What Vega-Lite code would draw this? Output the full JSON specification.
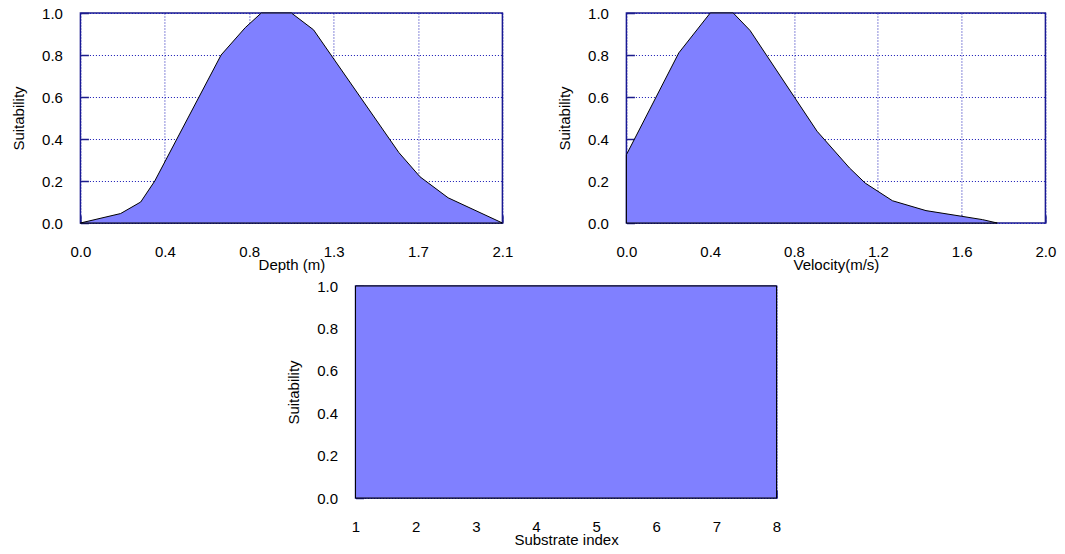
{
  "$schema": "https://vega.github.io/schema/vega-lite/v6.json",
  "background": "white",
  "padding": {"left": 10, "top": 5, "right": 5, "bottom": 5},
  "spacing": 5,
  "center": true,
  "datasets": {
    "depth": [
      {"x": 0, "s": 0},
      {"x": 0.2, "s": 0.045},
      {"x": 0.3, "s": 0.1},
      {"x": 0.37, "s": 0.2},
      {"x": 0.7, "s": 0.8},
      {"x": 0.82, "s": 0.93},
      {"x": 0.9, "s": 1},
      {"x": 1.05, "s": 1},
      {"x": 1.16, "s": 0.92},
      {"x": 1.585, "s": 0.335},
      {"x": 1.69, "s": 0.22},
      {"x": 1.83, "s": 0.12},
      {"x": 2.1, "s": 0}
    ],
    "velocity": [
      {"x": 0, "s": 0.325},
      {"x": 0.25, "s": 0.81},
      {"x": 0.4, "s": 1},
      {"x": 0.51, "s": 1},
      {"x": 0.59, "s": 0.917},
      {"x": 0.91, "s": 0.437},
      {"x": 1.065, "s": 0.262},
      {"x": 1.14, "s": 0.19},
      {"x": 1.27, "s": 0.106},
      {"x": 1.43, "s": 0.059},
      {"x": 1.6, "s": 0.032},
      {"x": 1.7, "s": 0.016},
      {"x": 1.77, "s": 0}
    ],
    "substrate": [
      {"x": 1, "s": 1},
      {"x": 8, "s": 1}
    ]
  },
  "vconcat": [
    {
      "hconcat": [
        {
          "width": 422,
          "height": 210,
          "data": {"name": "depth"},
          "mark": {"type": "area", "color": "#8080FF", "fillOpacity": 1, "stroke": "black", "strokeWidth": 1, "interpolate": "linear"},
          "encoding": {
            "x": {"field": "x", "type": "quantitative", "title": "Depth (m)", "scale": {"domain": [0, 2.1], "nice": false, "zero": false},
                  "axis": {"values": [0, 0.42, 0.84, 1.26, 1.68, 2.1], "format": ".1f"}},
            "y": {"field": "s", "type": "quantitative", "title": "Suitability", "scale": {"domain": [0, 1], "nice": false},
                  "axis": {"values": [0, 0.2, 0.4, 0.6, 0.8, 1.0], "format": ".1f"}}
          }
        },
        {
          "width": 419,
          "height": 210,
          "data": {"name": "velocity"},
          "mark": {"type": "area", "color": "#8080FF", "fillOpacity": 1, "stroke": "black", "strokeWidth": 1, "interpolate": "linear"},
          "encoding": {
            "x": {"field": "x", "type": "quantitative", "title": "Velocity(m/s)", "scale": {"domain": [0, 2.0], "nice": false, "zero": false},
                  "axis": {"values": [0, 0.4, 0.8, 1.2, 1.6, 2.0], "format": ".1f"}},
            "y": {"field": "s", "type": "quantitative", "title": "Suitability", "scale": {"domain": [0, 1], "nice": false},
                  "axis": {"values": [0, 0.2, 0.4, 0.6, 0.8, 1.0], "format": ".1f"}}
          }
        }
      ],
      "spacing": 42
    },
    {
      "width": 421,
      "height": 212,
      "data": {"name": "substrate"},
      "mark": {"type": "area", "color": "#8080FF", "fillOpacity": 1, "stroke": "black", "strokeWidth": 1, "interpolate": "linear"},
      "encoding": {
        "x": {"field": "x", "type": "quantitative", "title": "Substrate index", "scale": {"domain": [1, 8], "nice": false, "zero": false},
              "axis": {"values": [1, 2, 3, 4, 5, 6, 7, 8], "format": "d"}},
        "y": {"field": "s", "type": "quantitative", "title": "Suitability", "scale": {"domain": [0, 1], "nice": false},
              "axis": {"values": [0, 0.2, 0.4, 0.6, 0.8, 1.0], "format": ".1f"}}
      }
    }
  ],
  "config": {
    "font": "Liberation Sans",
    "view": {"stroke": "#1c1c8c", "strokeWidth": 1.5},
    "axis": {
      "labelFont": "Liberation Sans",
      "labelFontSize": 15,
      "labelColor": "#000000",
      "titleFont": "Liberation Sans",
      "titleFontSize": 15,
      "titleFontWeight": "normal",
      "titleColor": "#000000",
      "domain": false,
      "grid": true,
      "gridColor": "#1414b4",
      "gridDash": [1, 2],
      "gridOpacity": 1,
      "gridWidth": 1,
      "ticks": true,
      "tickColor": "#1c1c8c",
      "tickSize": -8,
      "tickWidth": 1.5,
      "labelFlush": false,
      "labelOverlap": false
    },
    "axisX": {"labelPadding": 29, "titlePadding": -2},
    "axisY": {"labelPadding": 26, "titlePadding": 15}
  }
}
